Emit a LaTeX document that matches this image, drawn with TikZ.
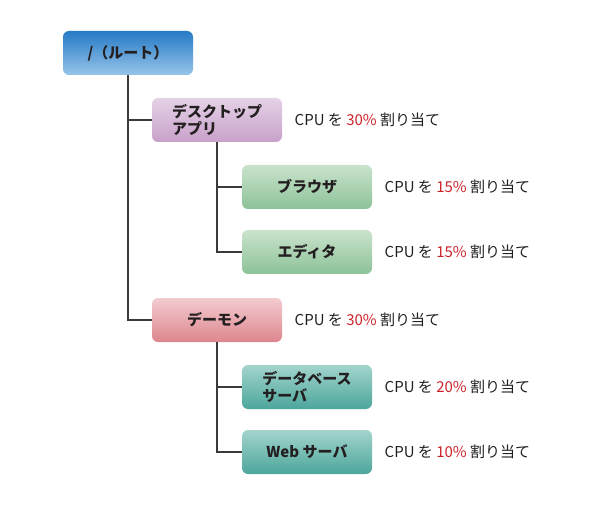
\documentclass[tikz,border=0pt]{standalone}
\usepackage{fontspec}
\setmainfont{Noto Sans CJK JP}
\usepackage{xcolor}
\definecolor{linegray}{RGB}{58, 58, 58}
\definecolor{textdark}{RGB}{35, 31, 32}
\definecolor{pctred}{RGB}{204, 34, 41}
\definecolor{roottop}{RGB}{38, 122, 198}
\definecolor{rootbot}{RGB}{150, 196, 233}
\definecolor{desktop}{RGB}{228, 210, 230}
\definecolor{deskbot}{RGB}{200, 160, 202}
\definecolor{greentop}{RGB}{202, 227, 204}
\definecolor{greenbot}{RGB}{140, 194, 152}
\definecolor{pinktop}{RGB}{243, 204, 208}
\definecolor{pinkbot}{RGB}{221, 134, 142}
\definecolor{tealtop}{RGB}{163, 212, 204}
\definecolor{tealbot}{RGB}{76, 166, 156}
\usetikzlibrary{positioning}

\begin{document}
\begin{tikzpicture}[
    x=1pt, y=-1pt,
    group/.style={
        rectangle,
        rounded corners=6pt,
        minimum width=130pt,
        minimum height=44pt,
        inner sep=0pt,
        align=left,
        font=\fontsize{15pt}{16.5pt}\selectfont\bfseries,
        text=textdark
    },
    share/.style={
        right=9pt of #1,
        font=\fontsize{15pt}{17pt}\selectfont,
        text=textdark
    },
    link/.style={line width=2.2pt,linegray}
]
    \useasboundingbox (0,0) rectangle (600,505);

    % Groups
    \node[group, top color=roottop, bottom color=rootbot] (root) at (128,53) {/（ルート）};

    \node[group, top color=desktop, bottom color=deskbot] (desk) at (217,120) {
        デスクトップ\\
        アプリ
    };
    \node[group, top color=greentop, bottom color=greenbot] (browser) at (307,187) {ブラウザ};
    \node[group, top color=greentop, bottom color=greenbot] (editor) at (307,252) {エディタ};

    \node[group, top color=pinktop, bottom color=pinkbot] (daemon) at (217,320) {デーモン};
    \node[group, top color=tealtop, bottom color=tealbot] (db) at (307,387) {
        データベース\\
        サーバ
    };
    \node[group, top color=tealtop, bottom color=tealbot] (web) at (307,452) {Web サーバ};

    % Connectors
    \draw[link] (root.south) |- (desk.west);
    \draw[link] (root.south) |- (daemon.west);
    \draw[link] (desk.south) |- (browser.west);
    \draw[link] (desk.south) |- (editor.west);
    \draw[link] (daemon.south) |- (db.west);
    \draw[link] (daemon.south) |- (web.west);

    % CPU shares
    \node[share=desk] (deskcpu) {CPU を \textcolor{pctred}{30\%} 割り当て};
    \node[share=browser] (browsercpu) {CPU を \textcolor{pctred}{15\%} 割り当て};
    \node[share=editor] (editorcpu) {CPU を \textcolor{pctred}{15\%} 割り当て};
    \node[share=daemon] (daemoncpu) {CPU を \textcolor{pctred}{30\%} 割り当て};
    \node[share=db] (dbcpu) {CPU を \textcolor{pctred}{20\%} 割り当て};
    \node[share=web] (webcpu) {CPU を \textcolor{pctred}{10\%} 割り当て};
\end{tikzpicture}
\end{document}
